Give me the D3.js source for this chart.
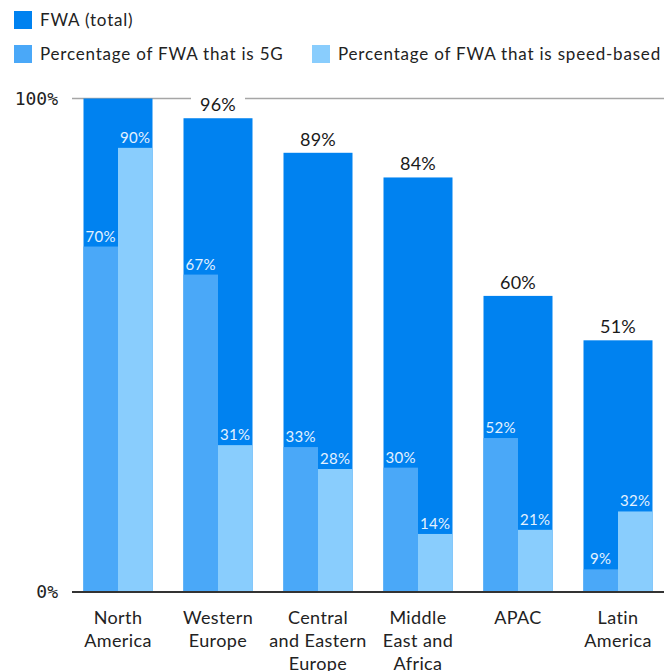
<!DOCTYPE html>
<html>
<head>
<meta charset="utf-8">
<script src="https://cdn.jsdelivr.net/npm/d3@7"></script>
<style>
  html, body { margin: 0; padding: 0; background: #fff; }
  svg { display: block; }
  .legend text { font-family: Lato, "Noto Sans", sans-serif; fill: #222; letter-spacing: 0.8px; }
  .cat text { font-family: Lato, "Noto Sans", sans-serif; fill: #222; letter-spacing: 0.4px; }
  .val { font-family: Lato, "Noto Sans", sans-serif; letter-spacing: 0.3px; }
  .num { font-family: "DejaVu Sans Mono", monospace; }
</style>
</head>
<body>
<svg id="chart"></svg>
<script>
(function () {
    'use strict';

    var regions = ['North America', 'Western Europe', 'Central and Eastern Europe',
        'Middle East and Africa', 'APAC', 'Latin America'];
    var regionLines = [['North', 'America'], ['Western', 'Europe'], ['Central', 'and Eastern', 'Europe'],
        ['Middle', 'East and', 'Africa'], ['APAC'], ['Latin', 'America']];
    // share of subscriptions that are FWA
    var fwaTotal = [100, 96, 89, 84, 60, 51];
    // share of the FWA subscriptions that are 5G / speed-based
    var fiveG = [70, 67, 33, 30, 52, 9];
    var speedBased = [90, 31, 28, 14, 21, 32];
    var yTicks = [0, 100];

    var width = 672, height = 671;
    var colors = { total: '#0082f0', fiveG: '#4aa8f8', speed: '#89cdfd' };

    var svg = d3.select('#chart').attr('width', width).attr('height', height);

    var x = d3.scaleBand().domain(regions).range([68, 668]).paddingInner(0.31).paddingOuter(0.155);
    var y = d3.scaleLinear().domain([0, 100]).range([592, 98.5]);

    // legend
    var legendItems = [
        { label: 'FWA (total)', color: colors.total, x: 14, y: 11 },
        { label: 'Percentage of FWA that is 5G', color: colors.fiveG, x: 14, y: 45 },
        { label: 'Percentage of FWA that is speed-based', color: colors.speed, x: 312, y: 45 }
    ];
    var legend = svg.append('g').attr('class', 'legend')
        .selectAll('g').data(legendItems).enter().append('g')
        .attr('transform', function (d) { return 'translate(' + d.x + ',' + d.y + ')'; });
    legend.append('rect').attr('width', 18).attr('height', 18).attr('fill', function (d) { return d.color; });
    legend.append('text').attr('x', 26).attr('y', 15).style('font-size', '17px')
        .text(function (d) { return d.label; });

    // gridline at 100%
    svg.append('line')
        .attr('x1', 72).attr('x2', 664)
        .attr('y1', y(100)).attr('y2', y(100))
        .attr('stroke', '#a6a6a6').attr('stroke-width', 1.5);

    var data = regions.map(function (r, i) {
        return { region: r, lines: regionLines[i], total: fwaTotal[i], fiveG: fiveG[i], speed: speedBased[i] };
    });

    var groups = svg.append('g').selectAll('g').data(data).enter().append('g');
    var half = x.bandwidth() / 2;

    // sub bars are a share of the total bar
    function part(d, v) { return d.total * v / 100; }

    groups.append('rect')
        .attr('x', function (d) { return x(d.region); })
        .attr('y', function (d) { return y(d.total); })
        .attr('width', x.bandwidth())
        .attr('height', function (d) { return y(0) - y(d.total); })
        .attr('fill', colors.total);

    groups.append('rect')
        .attr('x', function (d) { return x(d.region); })
        .attr('y', function (d) { return y(part(d, d.fiveG)); })
        .attr('width', half)
        .attr('height', function (d) { return y(0) - y(part(d, d.fiveG)); })
        .attr('fill', colors.fiveG);

    groups.append('rect')
        .attr('x', function (d) { return x(d.region) + half; })
        .attr('y', function (d) { return y(part(d, d.speed)); })
        .attr('width', x.bandwidth() - half)
        .attr('height', function (d) { return y(0) - y(part(d, d.speed)); })
        .attr('fill', colors.speed);

    // total labels, white box cuts the gridline
    var top = groups.filter(function (d) { return d.total < 100; });
    top.append('rect')
        .attr('x', function (d) { return x(d.region) + x.bandwidth() / 2 - 27; })
        .attr('y', function (d) { return y(d.total) - 26; })
        .attr('width', 54).attr('height', 24)
        .attr('fill', '#fff');
    top.append('text')
        .attr('class', 'val')
        .attr('x', function (d) { return x(d.region) + x.bandwidth() / 2; })
        .attr('y', function (d) { return y(d.total) - 7; })
        .attr('text-anchor', 'middle')
        .style('font-size', '18px').style('fill', '#1a1a1a')
        .text(function (d) { return d.total + '%'; });

    // inner labels
    groups.append('text')
        .attr('class', 'val')
        .attr('x', function (d) { return x(d.region) + half / 2; })
        .attr('y', function (d) { return y(part(d, d.fiveG)) - 5; })
        .attr('text-anchor', 'middle')
        .style('font-size', '15px').style('fill', '#e3f1ff')
        .text(function (d) { return d.fiveG + '%'; });

    groups.append('text')
        .attr('class', 'val')
        .attr('x', function (d) { return x(d.region) + half * 1.5; })
        .attr('y', function (d) { return y(part(d, d.speed)) - 5; })
        .attr('text-anchor', 'middle')
        .style('font-size', '15px').style('fill', '#e3f1ff')
        .text(function (d) { return d.speed + '%'; });

    // baseline
    svg.append('line')
        .attr('x1', 72).attr('x2', 664)
        .attr('y1', y(0)).attr('y2', y(0))
        .attr('stroke', '#333').attr('stroke-width', 2);

    // y tick labels
    svg.append('g').selectAll('text').data(yTicks).enter().append('text')
        .attr('class', 'num')
        .attr('x', 58).attr('y', function (d) { return y(d); })
        .attr('dy', '0.35em')
        .attr('text-anchor', 'end')
        .style('font-size', '18px').style('fill', '#222')
        .text(function (d) { return d + '%'; });

    // category labels
    var cat = svg.append('g').attr('class', 'cat').selectAll('text').data(data).enter().append('text')
        .attr('text-anchor', 'middle')
        .style('font-size', '18px');
    cat.selectAll('tspan').data(function (d) {
        return d.lines.map(function (l) { return { line: l, region: d.region }; });
    }).enter().append('tspan')
        .attr('x', function (d) { return x(d.region) + x.bandwidth() / 2; })
        .attr('y', function (d, i) { return 623.5 + i * 23.3; })
        .text(function (d) { return d.line; });
})();
</script>
</body>
</html>
